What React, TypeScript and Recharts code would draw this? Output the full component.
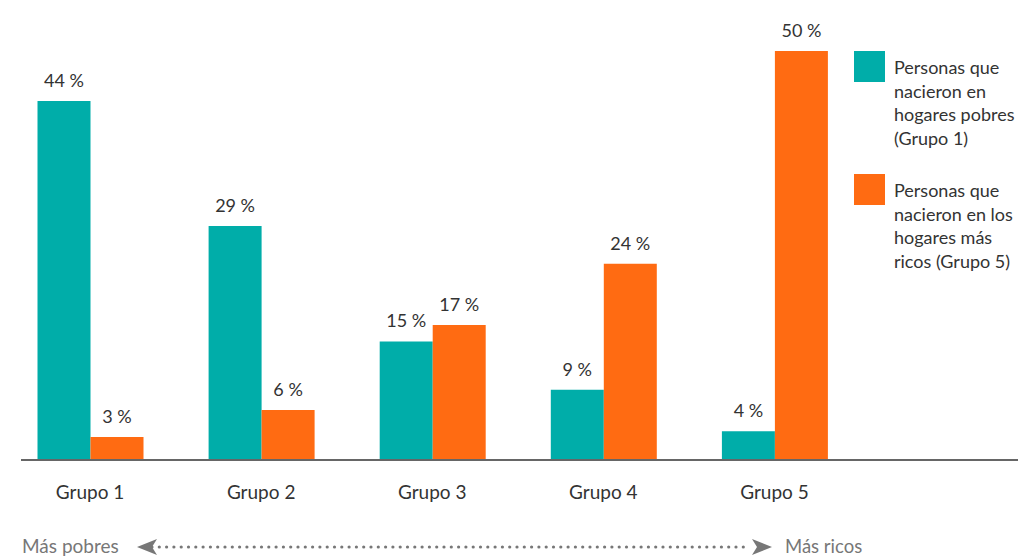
import React from "react";
import { BarChart, Bar, XAxis, YAxis, LabelList } from "recharts";

const categories = ["Grupo 1", "Grupo 2", "Grupo 3", "Grupo 4", "Grupo 5"];
const poorValues = [43.9, 28.6, 14.5, 8.6, 3.5];
const richValues = [2.8, 6.1, 16.5, 24.0, 50];
const poorLabel = ["Personas que", "nacieron en", "hogares pobres", "(Grupo 1)"];
const richLabel = ["Personas que", "nacieron en los", "hogares más", "ricos (Grupo 5)"];

const TEAL = "#00ADA9";
const ORANGE = "#FF6B12";
const FONT = "Lato, 'Open Sans', sans-serif";

const data = categories.map((c, i) => ({ name: c, poor: poorValues[i], rich: richValues[i] }));

const legendItems = [
  { color: TEAL, lines: poorLabel },
  { color: ORANGE, lines: richLabel },
];

const LegendBox = () => (
  <div style={{ position: "absolute", left: 854, top: 51, width: 165, fontFamily: FONT }}>
    {legendItems.map((it, i) => (
      <div key={i} style={{ position: "relative", height: i === 0 ? 123 : 110 }}>
        <div style={{ position: "absolute", left: 0, top: 0, width: 31, height: 31, background: it.color }} />
        <div
          style={{
            position: "absolute",
            left: 40,
            top: 5,
            fontSize: 18,
            lineHeight: "23.5px",
            color: "#333",
            whiteSpace: "nowrap",
          }}
        >
          {it.lines.map((l, j) => (
            <div key={j}>{l}</div>
          ))}
        </div>
      </div>
    ))}
  </div>
);

const fmt = (v: any) => `${Math.round(Number(v))} %`;

const dots: number[] = [];
for (let x = 152; x <= 748; x += 7.3) dots.push(x);

export default function App() {
  return (
    <div style={{ position: "absolute", left: 0, top: 0, width: 1019, height: 556, background: "#fff", overflow: "hidden" }}>
      <BarChart
        width={1019}
        height={556}
        data={data}
        margin={{ top: 51, right: 1, bottom: 66, left: 21 }}
        barCategoryGap={33}
        barGap={0}
      >
        <XAxis
          dataKey="name"
          height={30}
          padding={{ left: -16.5, right: 158 }}
          axisLine={{ stroke: "#666", strokeWidth: 2 }}
          tickLine={false}
          tickSize={0}
          tickMargin={26}
          tick={{ fill: "#333", fontSize: 19, fontFamily: FONT }}
          interval={0}
        />
        <YAxis hide domain={[0, 50]} />
        <Bar dataKey="poor" fill={TEAL} isAnimationActive={false}>
          <LabelList dataKey="poor" position="top" offset={14} formatter={fmt} fill="#333" fontSize={18} fontFamily={FONT} />
        </Bar>
        <Bar dataKey="rich" fill={ORANGE} isAnimationActive={false}>
          <LabelList dataKey="rich" position="top" offset={14} formatter={fmt} fill="#333" fontSize={18} fontFamily={FONT} />
        </Bar>
      </BarChart>
      <LegendBox />
      <svg width={1019} height={556} style={{ position: "absolute", left: 0, top: 0, pointerEvents: "none" }}>
        <text x={22} y={553} fontFamily={FONT} fontSize={19} fill="#777">Más pobres</text>
        <path d="M137,547 L157,539 L152,547 L157,555 Z" fill="#777" />
        {dots.map((x, i) => (
          <circle key={i} cx={x} cy={547} r={1.6} fill="#777" />
        ))}
        <path d="M772,547 L752,539 L757,547 L752,555 Z" fill="#777" />
        <text x={785} y={553} fontFamily={FONT} fontSize={18.5} fill="#777">Más ricos</text>
      </svg>
    </div>
  );
}
